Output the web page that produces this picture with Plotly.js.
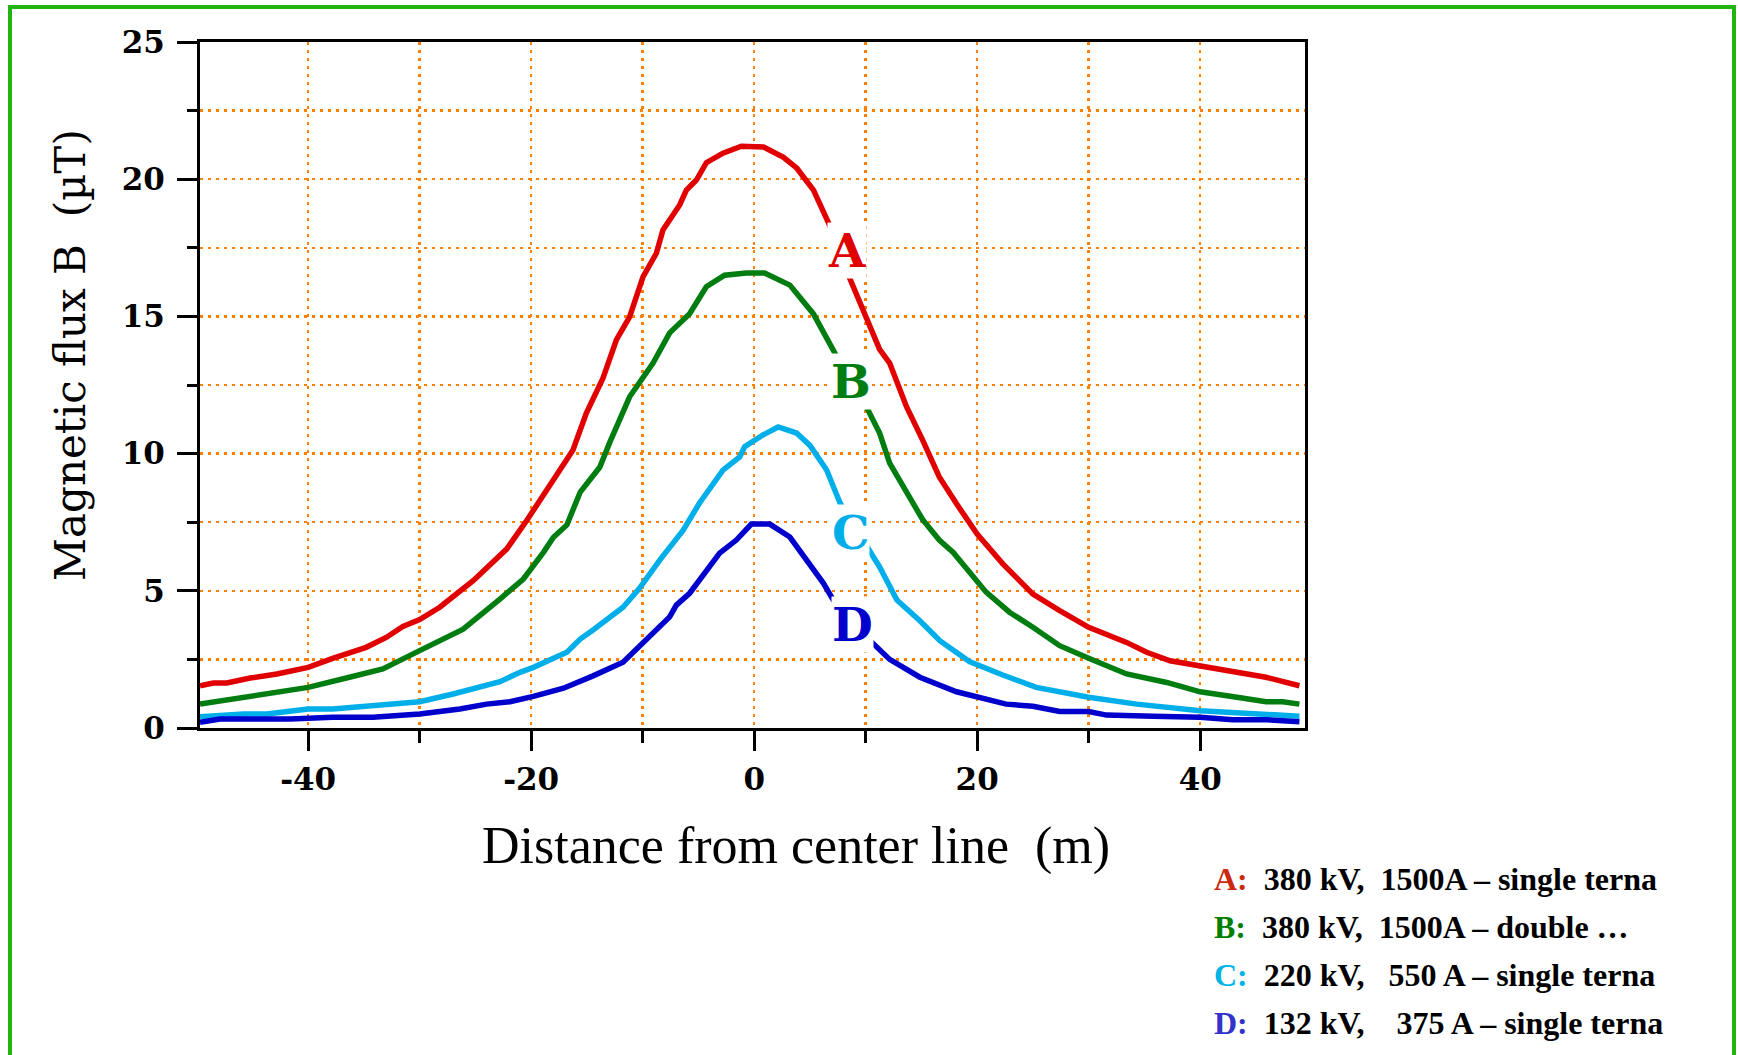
<!DOCTYPE html>
<html>
<head>
<meta charset="utf-8">
<script src="https://cdn.plot.ly/plotly-3.0.1.min.js"></script>
<style>
html,body{margin:0;padding:0;background:#fff;}
#chart{width:1738px;height:1055px;}
</style>
</head>
<body>
<div id="chart"></div>
<script>
// ---- Data ----
const xA = [-49.7, -48.5, -47.3, -45.2, -42.8, -40, -37.8, -34.8, -33, -31.5, -30, -28.2, -25.2, -22.2, -20.4, -19.2, -18, -16.25, -15.05, -13.56, -12.36, -11.17, -9.97, -8.77, -8.18, -6.68, -6.08, -5.18, -4.29, -2.8, -1.15, 0.84, 2.63, 3.83, 5.32, 6.82, 8.56, 10.1, 11.25, 12.15, 13.67, 15.1, 16.6, 18.15, 20, 22.3, 25, 27.4, 30, 33.4, 35.2, 37.3, 40, 43.3, 45.9, 48.9];
const yA = [1.54, 1.64, 1.64, 1.82, 1.97, 2.21, 2.54, 2.94, 3.3, 3.7, 3.95, 4.4, 5.37, 6.52, 7.56, 8.29, 9.08, 10.13, 11.48, 12.75, 14.14, 14.98, 16.44, 17.3, 18.15, 19.06, 19.6, 19.97, 20.6, 20.95, 21.2, 21.17, 20.8, 20.4, 19.6, 18.27, 16.4, 14.87, 13.8, 13.3, 11.7, 10.5, 9.15, 8.17, 7.07, 5.98, 4.88, 4.28, 3.67, 3.12, 2.76, 2.45, 2.25, 2.03, 1.85, 1.54];

const xB = [-49.7, -46.7, -42.8, -40, -36.3, -33.3, -30, -26.1, -22.8, -20.7, -18.9, -18, -16.8, -16.2, -15.6, -14.75, -13.85, -12.96, -11.17, -9.07, -7.58, -5.79, -4.29, -2.65, -0.7, 0.93, 3.2, 5.3, 7.25, 9.7, 11.25, 12.15, 13.67, 15.1, 16.6, 17.85, 20.8, 22.9, 25, 27.4, 30, 33.4, 37, 40, 43.3, 45.9, 47.4, 48.9];
const yB = [0.87, 1.06, 1.3, 1.48, 1.85, 2.15, 2.82, 3.6, 4.7, 5.43, 6.4, 6.95, 7.4, 8.0, 8.6, 9.04, 9.5, 10.4, 12.07, 13.3, 14.4, 15.1, 16.08, 16.5, 16.58, 16.58, 16.14, 15.1, 13.65, 12.0, 10.75, 9.65, 8.56, 7.6, 6.85, 6.4, 4.95, 4.22, 3.67, 3.0, 2.54, 1.97, 1.66, 1.32, 1.12, 0.96, 0.96, 0.87];

const xC = [-49.7, -45.8, -43.7, -40, -37.8, -33.3, -30, -27, -22.8, -21, -19.8, -16.8, -15.6, -14.45, -11.76, -10.27, -8.47, -6.38, -4.9, -2.8, -1.3, -0.85, 0.8, 2.15, 3.8, 5.0, 6.5, 7.7, 10.1, 11.25, 12.8, 14.86, 16.65, 19.3, 22.3, 25.3, 30, 34.3, 40, 42.9, 45.9, 48.9];
const yC = [0.41, 0.51, 0.51, 0.69, 0.69, 0.87, 0.96, 1.24, 1.69, 2.03, 2.21, 2.76, 3.24, 3.57, 4.4, 5.1, 6.12, 7.2, 8.2, 9.4, 9.88, 10.25, 10.68, 10.97, 10.75, 10.3, 9.4, 8.2, 6.6, 5.87, 4.66, 3.91, 3.18, 2.42, 1.93, 1.48, 1.12, 0.87, 0.63, 0.57, 0.47, 0.43];

const xD = [-49.7, -47.9, -41.6, -37.8, -34.2, -30, -26.4, -24, -21.9, -19.8, -17.1, -15.6, -14.45, -11.76, -9.67, -7.58, -6.98, -5.79, -3.1, -1.6, -0.25, 1.4, 3.2, 4.1, 6.2, 7.1, 10.1, 12.15, 14.86, 18.15, 20, 22.6, 25, 27.4, 30, 31.6, 35.8, 40, 42.9, 45.9, 48.9];
const yD = [0.21, 0.33, 0.33, 0.39, 0.39, 0.51, 0.69, 0.87, 0.96, 1.15, 1.45, 1.7, 1.9, 2.4, 3.2, 4.05, 4.48, 4.91, 6.37, 6.85, 7.43, 7.43, 6.96, 6.48, 5.28, 4.66, 3.3, 2.5, 1.85, 1.32, 1.15, 0.87, 0.79, 0.6, 0.6, 0.47, 0.43, 0.39, 0.3, 0.3, 0.23];

// ---- Ticks ----
const xTickVals = [-40, -20, 0, 20, 40];
const xTickText = ["-40", "-20", "0", "20", "40"];
const xMinorVals = [-40, -30, -20, -10, 0, 10, 20, 30, 40];
const yTickVals = [0, 5, 10, 15, 20, 25];
const yTickText = ["0", "5", "10", "15", "20", "25"];
const yMinorVals = [0, 2.5, 5, 7.5, 10, 12.5, 15, 17.5, 20, 22.5, 25];

const curveNames = ["A", "B", "C", "D"];
const curveLabelX = [8.3, 8.65, 8.65, 8.8];
const curveLabelY = [17.4, 12.63, 7.13, 3.78];
const legendLetters = ["A:", "B:", "C:", "D:"];
const legendTexts = [
  "\u00a0\u00a0380 kV,\u00a0\u00a01500A \u2013 single terna",
  "\u00a0\u00a0380 kV,\u00a0\u00a01500A \u2013 double \u2026",
  "\u00a0\u00a0220 kV,\u00a0\u00a0\u00a0550 A \u2013 single terna",
  "\u00a0\u00a0132 kV,\u00a0\u00a0\u00a0\u00a0375 A \u2013 single terna"
];
const xTitle = "Distance from center line\u00a0\u00a0(m)";
const yTitle = "Magnetic flux B\u00a0\u00a0(\u00b5T)";

// ---- Styles ----
const lineColors = ["#e00000", "#007d10", "#00aeea", "#0000cc"];
const legendColors = ["#cc2a10", "#008000", "#00b4e6", "#3333cc"];
const gridColor = "#ff8000";

const xs = [xA, xB, xC, xD];
const ys = [yA, yB, yC, yD];

const traces = xs.map((x, i) => ({
  type: "scatter", mode: "lines", x: x, y: ys[i], name: curveNames[i],
  line: {color: lineColors[i], width: 5.5}, showlegend: false, hoverinfo: "skip"
}));

const L = 200, R = 1305, T = 42, B = 728;
const W = 1738, H = 1055;
const pw = R - L, ph = B - T;
const px = v => (v - L) / pw;
const py = v => (B - v) / ph;

const tickFont = {family: "DejaVu Serif", size: 31, color: "#000", weight: "bold"};

const annotations = [];
curveNames.forEach((n, i) => {
  annotations.push({
    x: curveLabelX[i], y: curveLabelY[i], xref: "x", yref: "y",
    text: "<b>" + n + "</b>", showarrow: false,
    font: {family: "DejaVu Serif", size: 47, color: lineColors[i]},
    bgcolor: "#ffffff", borderpad: 0, xanchor: "center", yanchor: "middle"
  });
});
const legendYs = [879, 927, 975, 1023];
legendTexts.forEach((t, i) => {
  annotations.push({
    x: px(1212), y: py(legendYs[i]), xref: "paper", yref: "paper",
    xanchor: "left", yanchor: "middle", showarrow: false,
    text: "<b><span style=\"color:" + legendColors[i] + "\">" + legendLetters[i] + "</span>" + t + "</b>",
    font: {family: "Liberation Serif", size: 32, color: "#000"}
  });
});
annotations.push({
  x: px(796), y: py(846), xref: "paper", yref: "paper",
  xanchor: "center", yanchor: "middle", showarrow: false,
  text: xTitle, font: {family: "Liberation Serif", size: 52, color: "#000"}
});
annotations.push({
  x: px(70), y: py(355), xref: "paper", yref: "paper",
  xanchor: "center", yanchor: "middle", showarrow: false, textangle: -90,
  text: yTitle, font: {family: "DejaVu Serif", size: 42, color: "#000"}
});

const layout = {
  width: W, height: H,
  margin: {l: L, r: W - R, t: T, b: H - B, pad: 0},
  paper_bgcolor: "#ffffff", plot_bgcolor: "#ffffff",
  showlegend: false,
  xaxis: {
    range: [-49.7, 49.4], tickmode: "array", tickvals: xTickVals, ticktext: xTickText,
    ticks: "outside", ticklen: 20, tickwidth: 3, tickcolor: "#000",
    showline: true, mirror: true, linecolor: "#000", linewidth: 3,
    zeroline: false,
    showgrid: true, gridcolor: gridColor, gridwidth: 2.5, griddash: "3px,5px",
    tickfont: tickFont, ticklabelstandoff: 2,
    minor: {tickmode: "array", tickvals: xMinorVals, ticks: "outside", ticklen: 12, tickwidth: 3, tickcolor: "#000",
            showgrid: true, gridcolor: gridColor, gridwidth: 2.5, griddash: "3px,5px"}
  },
  yaxis: {
    range: [0, 25], tickmode: "array", tickvals: yTickVals, ticktext: yTickText,
    ticks: "outside", ticklen: 20, tickwidth: 3, tickcolor: "#000",
    showline: true, mirror: true, linecolor: "#000", linewidth: 3,
    zeroline: false,
    showgrid: true, gridcolor: gridColor, gridwidth: 2.5, griddash: "3px,5px",
    tickfont: tickFont, ticklabelstandoff: 6,
    minor: {tickmode: "array", tickvals: yMinorVals, ticks: "outside", ticklen: 10, tickwidth: 3, tickcolor: "#000",
            showgrid: true, gridcolor: gridColor, gridwidth: 2.5, griddash: "3px,5px"}
  },
  annotations: annotations,
  shapes: [{
    type: "rect", xref: "paper", yref: "paper",
    x0: px(10), x1: px(1734), y0: py(1070), y1: py(7),
    line: {color: "#22b511", width: 4}, fillcolor: "rgba(0,0,0,0)", layer: "above"
  }]
};

Plotly.newPlot("chart", traces, layout, {staticPlot: true, displayModeBar: false});
</script>
</body>
</html>
